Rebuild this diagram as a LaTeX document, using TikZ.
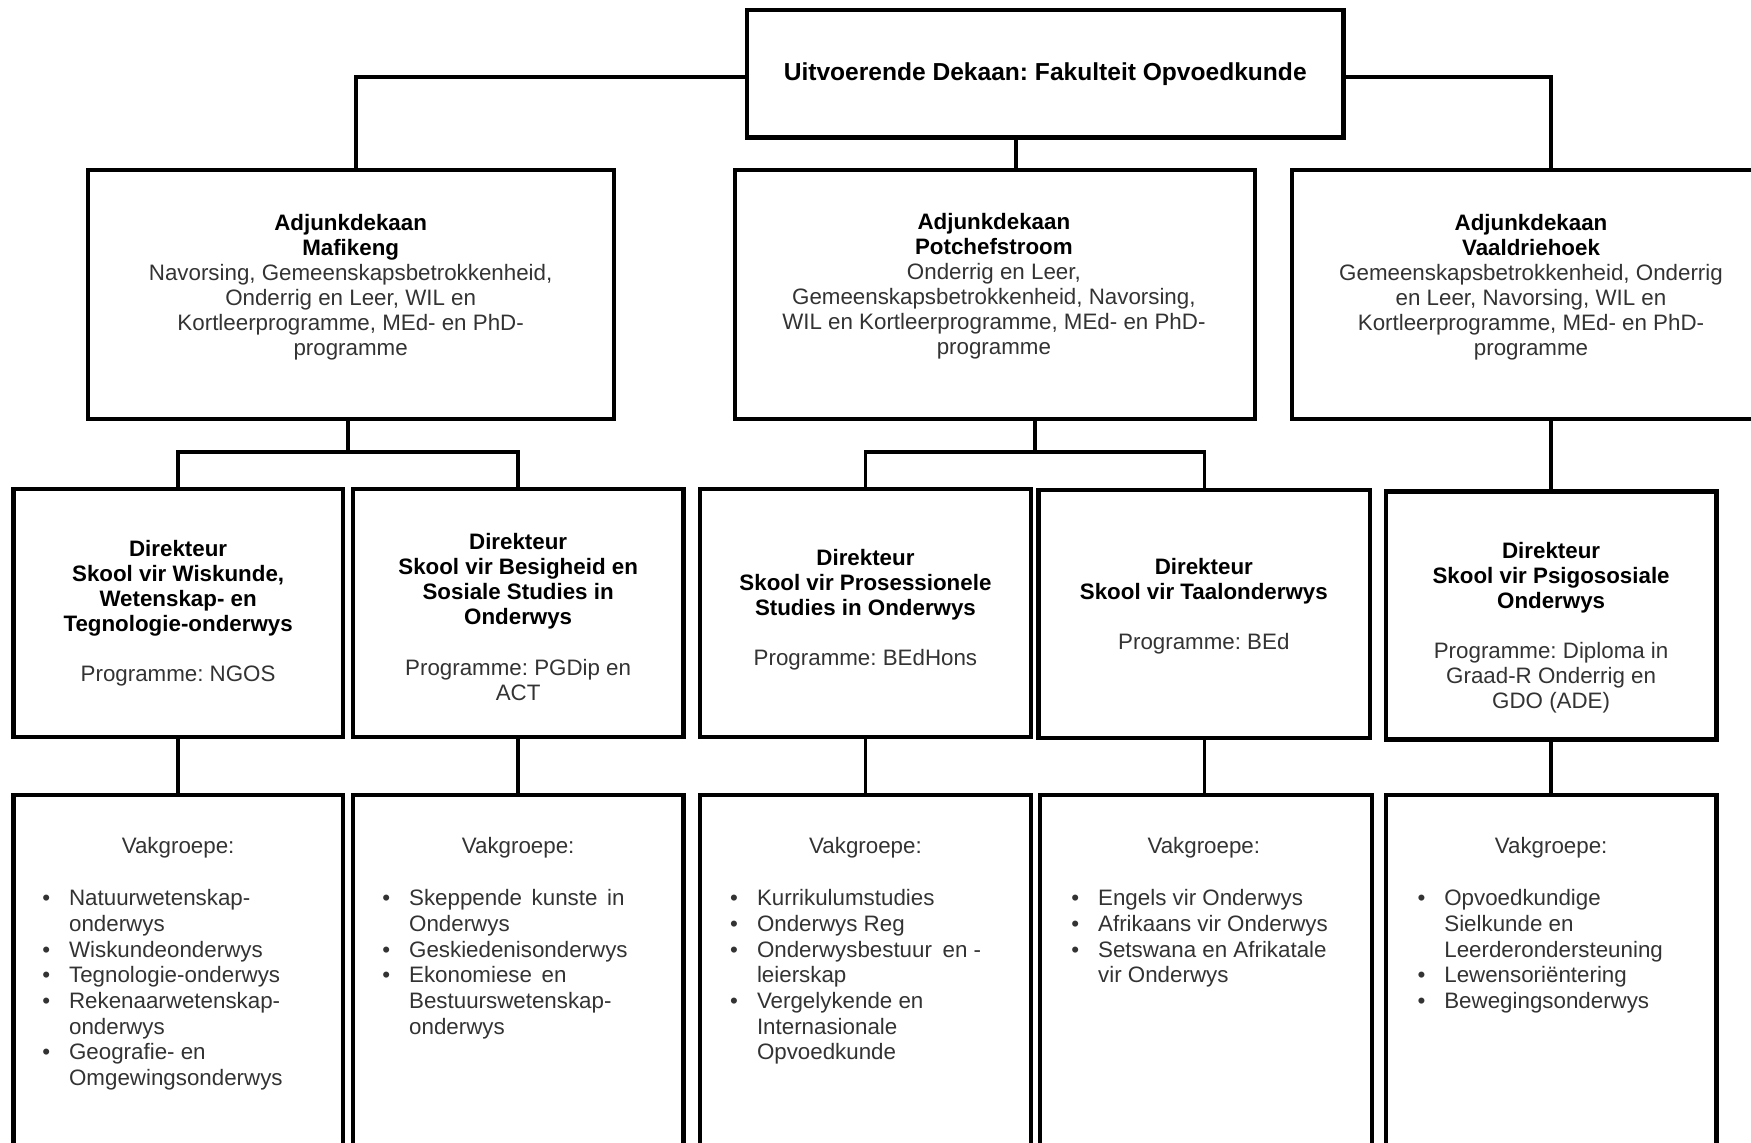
\documentclass[tikz,border=0pt]{standalone}
\usepackage{fontspec}
\setmainfont{Liberation Sans}
\usetikzlibrary{calc}
\frenchspacing
\newcommand{\hd}[1]{\textbf{\color{black}#1}}
\newcommand{\bitem}[1]{\makebox[12pt][l]{\textbullet}#1}
\newcommand{\bcont}[1]{\hspace*{12pt}#1}
\tikzset{
  box/.style={draw=black, line width=2pt, rectangle, inner sep=0pt},
  conn/.style={draw=black, line width=1.6pt},
  txt/.style={align=center, inner sep=0pt, text=black!80, font=\fontsize{10pt}{11.2pt}\selectfont},
  lst/.style={align=left, inner sep=0pt, anchor=west, text=black!80, font=\fontsize{10pt}{11.5pt}\selectfont},
  ttl/.style={font=\fontsize{11pt}{13pt}\selectfont\bfseries, text=black},
}
\begin{document}
\begin{tikzpicture}[x=0.5pt, y=-0.5pt]
\useasboundingbox (0,0) rectangle (1568,1023);
\clip (0,0) rectangle (1568,1023);
\fill[white] (0,0) rectangle (1568,1023);

% boxes
\node[box, ttl, minimum width=267pt, minimum height=57pt] (top) at (936,66) {Uitvoerende Dekaan: Fakulteit Opvoedkunde};

\node[box, minimum width=235.5pt, minimum height=111.5pt] (maf) at (314.5,263.5) {};
\node[box, minimum width=233pt, minimum height=111.5pt] (potch) at (891,263.5) {};
\node[box, minimum width=215pt, minimum height=111.5pt] (vaal) at (1372,263.5) {};

\node[box, minimum width=147.5pt, minimum height=111pt] (d1) at (159.5,549) {};
\node[box, minimum width=148pt, minimum height=111pt] (d2) at (464,549) {};
\node[box, minimum width=148pt, minimum height=111pt] (d3) at (775,549) {};
\node[box, minimum width=148.5pt, minimum height=111pt] (d4) at (1078.5,550) {};
\node[box, minimum width=148pt, minimum height=111pt] (d5) at (1389,551) {};

\node[box, minimum width=147.5pt, minimum height=174pt] (v1) at (159.5,886) {};
\node[box, minimum width=148pt, minimum height=174pt] (v2) at (464,886) {};
\node[box, minimum width=148pt, minimum height=174pt] (v3) at (775,886) {};
\node[box, minimum width=148.5pt, minimum height=174pt] (v4) at (1080,886) {};
\node[box, minimum width=148pt, minimum height=174pt] (v5) at (1389,886) {};

% connectors
\coordinate (jl) at (319,0);
\coordinate (jr) at (1389,0);
\coordinate (jm) at (910,0);
\draw[conn] ([yshift=-1.5pt]top.west) -| (jl |- maf.north);
\draw[conn] ([yshift=-1.5pt]top.east) -| (jr |- vaal.north);
\draw[conn] (jm |- top.south) -- (jm |- potch.north);

\coordinate (b1) at (0,405);
\coordinate (m1) at ($(d1.north)!0.5!(d2.north)$);
\coordinate (m2) at ($(d3.north)!0.5!(d4.north)$);
\draw[conn] (m1 |- maf.south) -- (m1 |- b1);
\draw[conn] (d1.north) |- (d2.north |- b1) -- (d2.north);
\draw[conn] (m2 |- potch.south) -- (m2 |- b1);
\draw[conn] (d3.north) |- (d4.north |- b1) -- (d4.north);
\draw[conn] (vaal.south -| d5.north) -- (d5.north);

\draw[conn] (d1.south) -- (v1.north);
\draw[conn] (d2.south) -- (v2.north);
\draw[conn] (d3.south) -- (v3.north);
\draw[conn] (d4.south) -- (d4.south |- v4.north);
\draw[conn] (d5.south) -- (v5.north);

% texts level 2
\node[txt] (maft) at (314,257) {\hd{Adjunkdekaan}\\\hd{Mafikeng}\\Navorsing, Gemeenskapsbetrokkenheid,\\Onderrig en Leer, WIL en\\Kortleerprogramme, MEd- en PhD-\\programme};
\node[txt] (potcht) at (890,256) {\hd{Adjunkdekaan}\\\hd{Potchefstroom}\\Onderrig en Leer,\\Gemeenskapsbetrokkenheid, Navorsing,\\WIL en Kortleerprogramme, MEd- en PhD-\\programme};
\node[txt] (vaalt) at (1371,257) {\hd{Adjunkdekaan}\\\hd{Vaaldriehoek}\\Gemeenskapsbetrokkenheid, Onderrig\\en Leer, Navorsing, WIL en\\Kortleerprogramme, MEd- en PhD-\\programme};

% texts directors
\node[txt] (d1t) at (159.5,549) {\hd{Direkteur}\\\hd{Skool vir Wiskunde,}\\\hd{Wetenskap- en}\\\hd{Tegnologie-onderwys}\\[11.2pt]Programme: NGOS};
\node[txt] (d2t) at (464,552.5) {\hd{Direkteur}\\\hd{Skool vir Besigheid en}\\\hd{Sosiale Studies in}\\\hd{Onderwys}\\[11.2pt]Programme: PGDip en\\ACT};
\node[txt] (d3t) at (775,546) {\hd{Direkteur}\\\hd{Skool vir Prosessionele}\\\hd{Studies in Onderwys}\\[11.2pt]Programme: BEdHons};
\node[txt] (d4t) at (1078,542.5) {\hd{Direkteur}\\\hd{Skool vir Taalonderwys}\\[11.2pt]Programme: BEd};
\node[txt] (d5t) at (1389,562) {\hd{Direkteur}\\\hd{Skool vir Psigososiale}\\\hd{Onderwys}\\[11.2pt]Programme: Diploma in\\Graad-R Onderrig en\\GDO (ADE)};

% vakgroepe headings
\node[txt] (v1h) at (159.5,759) {Vakgroepe:};
\node[txt] (v2h) at (464,759) {Vakgroepe:};
\node[txt] (v3h) at (775,759) {Vakgroepe:};
\node[txt] (v4h) at (1078,759) {Vakgroepe:};
\node[txt] (v5h) at (1389,759) {Vakgroepe:};

% lists
\node[lst] (v1l) at (37.5,886.5) {\bitem{Natuurwetenskap-}\\\bcont{onderwys}\\\bitem{Wiskundeonderwys}\\\bitem{Tegnologie-onderwys}\\\bitem{Rekenaarwetenskap-}\\\bcont{onderwys}\\\bitem{Geografie- en}\\\bcont{Omgewingsonderwys}};
\node[lst] (v2l) at (342,863.5) {\bitem{Skeppende\hspace{1.5pt} kunste\hspace{1.5pt} in}\\\bcont{Onderwys}\\\bitem{Geskiedenisonderwys}\\\bitem{Ekonomiese\hspace{1.5pt} en}\\\bcont{Bestuurswetenskap-}\\\bcont{onderwys}};
\node[lst] (v3l) at (653.5,875) {\bitem{Kurrikulumstudies}\\\bitem{Onderwys Reg}\\\bitem{Onderwysbestuur\hspace{2pt} en -}\\\bcont{leierskap}\\\bitem{Vergelykende en}\\\bcont{Internasionale}\\\bcont{Opvoedkunde}};
\node[lst] (v4l) at (959,840.5) {\bitem{Engels vir Onderwys}\\\bitem{Afrikaans vir Onderwys}\\\bitem{Setswana en Afrikatale}\\\bcont{vir Onderwys}};
\node[lst] (v5l) at (1269,852) {\bitem{Opvoedkundige}\\\bcont{Sielkunde en}\\\bcont{Leerderondersteuning}\\\bitem{Lewensoriëntering}\\\bitem{Bewegingsonderwys}};
\end{tikzpicture}
\end{document}
